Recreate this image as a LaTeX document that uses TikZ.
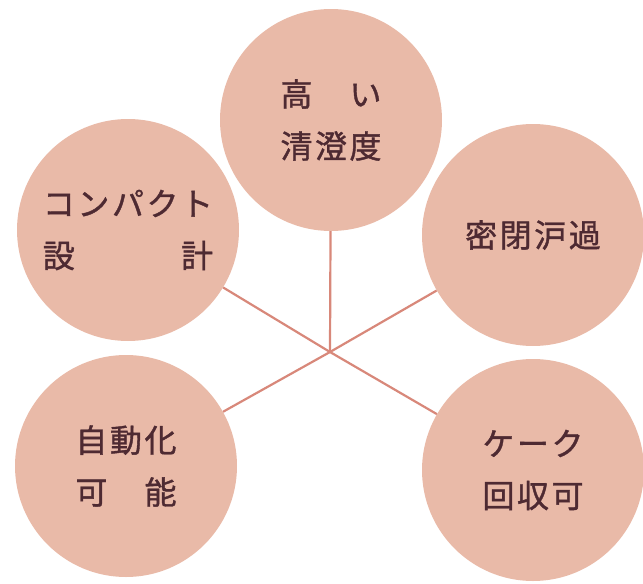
\documentclass[tikz,border=0pt]{standalone}
\usepackage{fontspec}
\newfontfamily\jp[LetterSpace=8,FakeBold=1.2]{Noto Sans CJK JP}
\definecolor{discfill}{HTML}{E9BAA8}
\definecolor{spoke}{HTML}{D8887A}
\definecolor{ink}{HTML}{4E2A32}
\tikzset{
  disc/.style={circle, fill=discfill, minimum size=222pt, inner sep=0pt,
    align=center, text=ink, font=\jp\fontsize{32}{52}\selectfont},
  spokeline/.style={draw=spoke, line width=2.2pt}
}
\begin{document}
\begin{tikzpicture}[x=1pt,y=-1pt]
  \useasboundingbox (0,0) rectangle (643,584);
  \node[disc] (top) at (331,120) {高　い\\清澄度};
  \node[disc] (left) at (128,230) {コンパクト\\設　　　計};
  \node[disc] (right) at (533,235) {密閉沪過};
  \node[disc] (bl) at (126,466) {自動化\\可　能};
  \node[disc] (br) at (533,470) {ケーク\\回収可};
  \coordinate (c) at (330,352);
  \draw[spokeline] (c) -- (top);
  \draw[spokeline] (c) -- (left);
  \draw[spokeline] (c) -- (right);
  \draw[spokeline] (c) -- (bl);
  \draw[spokeline] (c) -- (br);
\end{tikzpicture}
\end{document}
